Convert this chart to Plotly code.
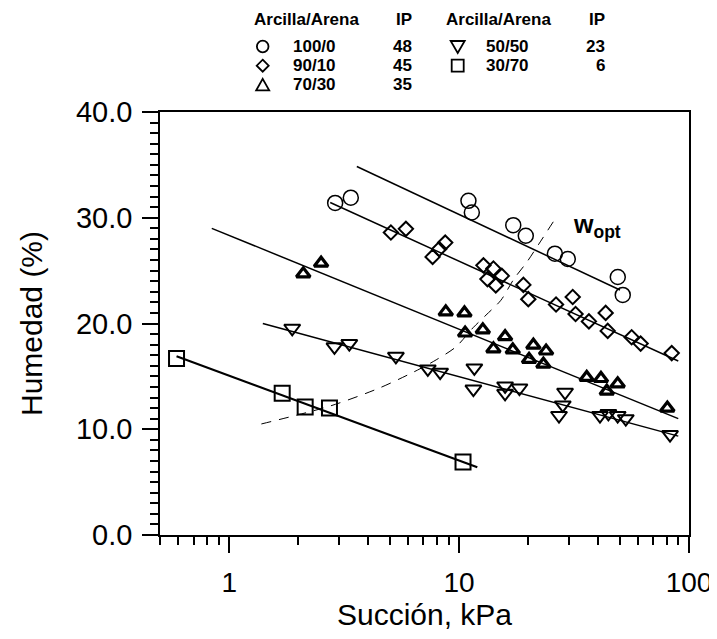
import numpy as np
import plotly.graph_objects as go

# ---------------- data ----------------
suc_100_0 = [2.89, 3.38, 10.98, 11.36, 17.2, 19.5, 26.1, 29.7, 49.0, 51.5]
hum_100_0 = [31.4, 31.9, 31.6, 30.5, 29.3, 28.3, 26.6, 26.1, 24.4, 22.7]

suc_90_10 = [5.05, 5.87, 7.67, 8.19, 8.7, 12.76, 13.28, 14.1, 14.44, 15.34,
             19.04, 20.0, 26.4, 31.2, 32.1, 36.7, 43.4, 44.3, 56.3, 61.6, 84.1]
hum_90_10 = [28.6, 28.95, 26.3, 27.05, 27.65, 25.5, 24.2, 25.2, 23.6, 24.5,
             23.65, 22.3, 21.8, 22.5, 20.9, 20.2, 21.0, 19.3, 18.7, 18.1, 17.2]

suc_70_30 = [2.10, 2.51, 8.75, 10.55, 10.62, 12.68, 14.1, 15.85, 17.12, 20.15,
             21.04, 23.26, 23.9, 35.9, 41.4, 43.9, 48.95, 80.5]
hum_70_30 = [24.7, 25.7, 21.1, 21.0, 19.1, 19.4, 17.6, 18.75, 17.5, 16.6,
             17.95, 16.15, 17.4, 14.9, 14.8, 13.6, 14.3, 12.0]

suc_50_50 = [1.88, 2.87, 3.33, 5.31, 7.31, 8.27, 11.65, 11.54, 15.85, 15.85,
             18.3, 28.9, 28.25, 27.2, 41.0, 44.6, 48.95, 53.1, 82.7]
hum_50_50 = [19.55, 17.8, 18.1, 16.9, 15.7, 15.4, 15.8, 13.8, 14.1, 13.4,
             13.9, 13.5, 12.3, 11.3, 11.3, 11.5, 11.3, 11.0, 9.5]

suc_30_70 = [0.59, 1.70, 2.14, 2.73, 10.4]
hum_30_70 = [16.7, 13.4, 12.1, 12.0, 6.9]

# fitted lines (end points)
fit_100_0_x, fit_100_0_y = [3.59, 50.1], [34.85, 23.17]
fit_90_10_x, fit_90_10_y = [2.75, 89.8], [31.44, 16.45]
fit_70_30_x, fit_70_30_y = [0.84, 89.8], [29.0, 11.0]
fit_50_50_x, fit_50_50_y = [1.4, 89.8], [20.0, 9.35]
fit_30_70_x, fit_30_70_y = [0.59, 12.0], [16.9, 6.4]

# optimum water content curve (dashed)
wopt_x = [1.38, 2.75, 4.5, 6.6, 8.0, 9.7, 11.5, 13.1, 15.2, 17.3, 19.7, 22.2, 26.0]
wopt_y = [10.5, 12.2, 13.9, 15.6, 16.6, 17.8, 19.6, 20.8, 22.2, 24.2, 25.8, 27.5, 29.8]

# legend contents
ratios = ["100/0", "90/10", "70/30", "50/50", "30/70"]
ip_vals = ["48", "45", "35", "23", "6"]
header_left = "Arcilla/Arena"
header_ip = "IP"

# axis ticks
y_ticks = [0, 10, 20, 30, 40]
x_ticks = [1, 10, 100]
x_ticktext = ["1", "10", "100"]
x_minor = [0.5, 0.6, 0.7, 0.8, 0.9, 2, 3, 4, 5, 6, 7, 8, 9,
           20, 30, 40, 50, 60, 70, 80, 90]

# ---------------- layout constants ----------------
FONT = "Liberation Sans, Arial, Helvetica, sans-serif"
PAGE_PAD = 8                     # default body margin of the html page
W, H = 717 - PAGE_PAD, 639 - PAGE_PAD
REF_L, REF_R, REF_T, REF_B = 160, 689, 112, 535   # plot area in window pixels
ML, MT = REF_L - PAGE_PAD, REF_T - PAGE_PAD
MR, MB = W - (REF_R - PAGE_PAD), H - (REF_B - PAGE_PAD)
PW, PH = REF_R - REF_L, REF_B - REF_T


def px2paper(px, py):
    """window pixel position -> paper coordinates"""
    return (px - REF_L) / PW, (REF_B - py) / PH


fig = go.Figure()

line_style = dict(color="black", width=1.5)
for fx, fy in [(fit_100_0_x, fit_100_0_y), (fit_90_10_x, fit_90_10_y),
               (fit_70_30_x, fit_70_30_y), (fit_50_50_x, fit_50_50_y)]:
    fig.add_trace(go.Scatter(x=fx, y=fy, mode="lines", line=line_style,
                             showlegend=False, hoverinfo="skip"))
fig.add_trace(go.Scatter(x=fit_30_70_x, y=fit_30_70_y, mode="lines",
                         line=dict(color="black", width=2.2),
                         showlegend=False, hoverinfo="skip"))

fig.add_trace(go.Scatter(x=wopt_x, y=wopt_y, mode="lines",
                         line=dict(color="black", width=1, dash="10px,8px",
                                   shape="spline", smoothing=0.8),
                         showlegend=False, hoverinfo="skip"))

series = [
    (suc_100_0, hum_100_0, "circle-open", 15, 1.5),
    (suc_90_10, hum_90_10, "diamond-open", 11, 2),
    (suc_70_30, hum_70_30, "triangle-up-open", 12, 3.2),
    (suc_50_50, hum_50_50, "triangle-down-open", 14, 2),
    (suc_30_70, hum_30_70, "square-open", 15, 2),
]
for (sx, sy, sym, sz, lw), name in zip(series, ratios):
    fig.add_trace(go.Scatter(x=sx, y=sy, mode="markers", name=name,
                             marker=dict(symbol=sym, size=sz, color="black",
                                         line=dict(width=lw, color="black")),
                             showlegend=False))

# ---------------- custom legend ----------------
shapes = []
leg_key_px_x = [262.7, 262.7, 262.7, 457.7, 457.7]
leg_key_px_y = [46.5, 65.7, 84.9, 46.5, 65.7]
leg_key_kind = ["circle", "diamond", "tri_up", "tri_down", "square"]
KEY_LINE = dict(color="black", width=1.8)


def key_shape(kind, cx, cy):
    def P(dx, dy):
        x, y = px2paper(cx + dx, cy + dy)
        return f"{x:.5f},{y:.5f}"
    if kind == "circle":
        x0, y0 = px2paper(cx - 5.8, cy + 5.8)
        x1, y1 = px2paper(cx + 5.8, cy - 5.8)
        return dict(type="circle", xref="paper", yref="paper", x0=x0, y0=y0,
                    x1=x1, y1=y1, line=KEY_LINE)
    if kind == "square":
        x0, y0 = px2paper(cx - 6, cy + 6)
        x1, y1 = px2paper(cx + 6, cy - 6)
        return dict(type="rect", xref="paper", yref="paper", x0=x0, y0=y0,
                    x1=x1, y1=y1, line=KEY_LINE)
    if kind == "diamond":
        path = f"M{P(0,-6)} L{P(6,0)} L{P(0,6)} L{P(-6,0)} Z"
    elif kind == "tri_up":
        path = f"M{P(0,-6)} L{P(6.5,5.5)} L{P(-6.5,5.5)} Z"
    else:
        path = f"M{P(0,6.5)} L{P(7,-5.5)} L{P(-7,-5.5)} Z"
    return dict(type="path", xref="paper", yref="paper", path=path, line=KEY_LINE)


for kind, kx, ky in zip(leg_key_kind, leg_key_px_x, leg_key_px_y):
    shapes.append(key_shape(kind, kx, ky))

LEG_FONT = dict(family=FONT, size=17, color="black", weight="bold")
annotations = []


def ann(text, px, py, anchor="left", font=LEG_FONT):
    x, y = px2paper(px, py)
    annotations.append(dict(text=text, x=x, y=y, xref="paper", yref="paper",
                            xanchor=anchor, yanchor="middle", showarrow=False,
                            borderpad=0, font=font))


header_y = 20
col_header_x = [253, 445]
col_ip_right = [413, 606]
col_ratio_x = [291.7, 485]
for c in range(2):
    ann(header_left, col_header_x[c], header_y)
    ann(header_ip, col_ip_right[c], header_y, anchor="right")
for i in range(5):
    c = 0 if i < 3 else 1
    ann(ratios[i], col_ratio_x[c], leg_key_px_y[i])
    ann(ip_vals[i], col_ip_right[c], leg_key_px_y[i], anchor="right")

# w_opt label
ann("<b>w<sub>opt</sub></b>", 572, 226,
    font=dict(family=FONT, size=25, color="black"))

axis_common = dict(showline=True, linecolor="black", linewidth=1.5, mirror=True,
                   ticks="outside", ticklen=16, tickwidth=1.5, tickcolor="black",
                   showgrid=False, zeroline=False)

fig.update_layout(
    width=W, height=H,
    margin=dict(l=ML, r=MR, t=MT, b=MB, autoexpand=False),
    paper_bgcolor="white", plot_bgcolor="white",
    font=dict(family=FONT, color="black"),
    showlegend=False,
    annotations=annotations,
    shapes=shapes,
    xaxis=dict(type="log", range=[np.log10(0.5), 2], tickvals=x_ticks,
               ticktext=x_ticktext, ticklabelstandoff=6,
               tickfont=dict(family=FONT, size=28, color="black"),
               minor=dict(tickvals=x_minor, ticks="outside", ticklen=8,
                          tickwidth=1.5, tickcolor="black", showgrid=False),
               title=dict(text="Succión, kPa",
                          font=dict(family=FONT, size=30, color="black"),
                          standoff=0),
               **axis_common),
    yaxis=dict(range=[0, 40], tickvals=y_ticks, tickformat=".1f",
               ticklabelstandoff=4,
               tickfont=dict(family=FONT, size=29, color="black"),
               minor=dict(dtick=1, ticks="outside", ticklen=8, tickwidth=1.5,
                          tickcolor="black", showgrid=False),
               title=dict(text="Humedad (%)",
                          font=dict(family=FONT, size=30, color="black"),
                          standoff=24),
               **axis_common),
)

fig.write_html("out.html")
